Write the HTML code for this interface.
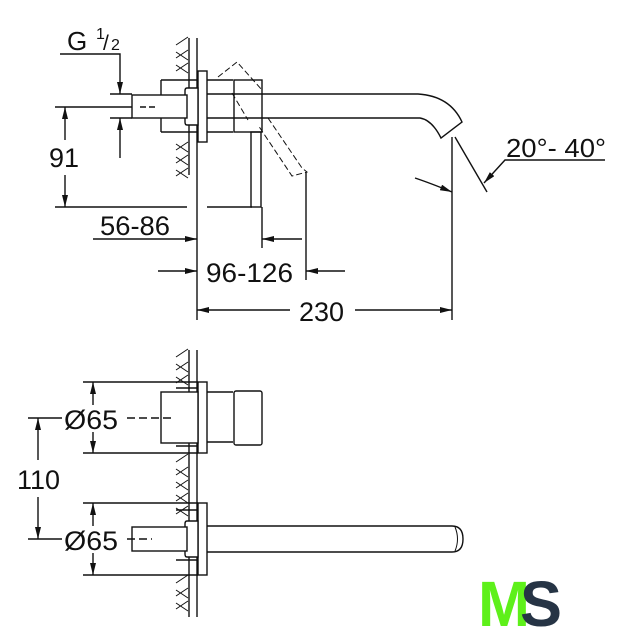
<!DOCTYPE html>
<html><head><meta charset="utf-8"><style>
html,body{margin:0;padding:0;background:#fff;}
svg{display:block;}
text{font-family:"Liberation Sans",sans-serif;fill:#111;}
</style></head><body>
<svg width="625" height="640" viewBox="0 0 625 640" xmlns="http://www.w3.org/2000/svg">
<defs>
<marker id="a" viewBox="0 0 12 6" refX="12" refY="3" markerWidth="12" markerHeight="6" orient="auto" markerUnits="userSpaceOnUse"><path d="M0,0 L12,3 L0,6z" fill="#111"/></marker>
</defs>
<g stroke="#111" stroke-width="1.4" fill="none">
<line x1="189" y1="38" x2="189" y2="175"/><line x1="197" y1="38" x2="197" y2="320"/>
<g stroke-width="1">
<path d="M176,45 l12,-8 M176,58 l12,-8 M176,71 l12,-8 M176,150 l12,-8 M176,163 l12,-8 M176,176 l12,-8"/>
<path d="M176,52 l12,8 M176,65 l12,8 M176,144 l12,8 M176,157 l12,8 M176,170 l12,8"/>
</g>
<rect x="198" y="71" width="9" height="71" fill="#fff"/>
<path d="M161,80 H198 M161,132 H198 M161,80 V132"/>
<path d="M187,88 H198 V125 H187 Q185,125 185,122 V91 Q185,88 187,88Z" fill="#fff"/>
<rect x="132" y="95" width="55" height="23" fill="#fff"/>
<path d="M207,80 H233 M207,132 H233"/>
<rect x="234" y="80" width="28" height="52"/>
<rect x="251" y="132" width="10" height="75"/>
<g stroke-dasharray="6,3" stroke-width="1">
<path d="M218,77 L237,62 L262,90 M232,93 L248,120 M268,118 L302,168 L307,172 L292,176 L258,125"/>
</g>
<path d="M207,94 H418 Q450,96 462,122 L441,138 Q432,120 420,118 H207"/>
<line x1="55" y1="107" x2="132" y2="107"/><line x1="140" y1="107" x2="157" y2="107" stroke-dasharray="6,3"/>
<path d="M60,54 H120 V94" marker-end="url(#a)"/>
<line x1="110" y1="94" x2="132" y2="94"/>
<line x1="110" y1="118" x2="132" y2="118"/>
<line x1="120" y1="158" x2="120" y2="118" marker-end="url(#a)"/>
<line x1="65" y1="140" x2="65" y2="107" marker-end="url(#a)"/>
<line x1="65" y1="175" x2="65" y2="207" marker-end="url(#a)"/>
<line x1="55" y1="207" x2="187" y2="207"/><line x1="207" y1="207" x2="252" y2="207"/>
<line x1="93" y1="239" x2="197" y2="239" marker-end="url(#a)"/>
<line x1="262" y1="207" x2="262" y2="248"/>
<line x1="302" y1="239" x2="262" y2="239" marker-end="url(#a)"/>
<line x1="306" y1="172" x2="306" y2="280"/>
<line x1="158" y1="271" x2="197" y2="271" marker-end="url(#a)"/>
<line x1="345" y1="271" x2="306" y2="271" marker-end="url(#a)"/>
<line x1="290" y1="310" x2="197" y2="310" marker-end="url(#a)"/>
<line x1="355" y1="310" x2="452" y2="310" marker-end="url(#a)"/>
<line x1="452" y1="137" x2="452" y2="320"/>
<line x1="455" y1="137" x2="487" y2="192"/>
<path d="M605,160 H505 L484,183" marker-end="url(#a)"/>
<path d="M415,178 Q430,183 452,192" marker-end="url(#a)"/>

<line x1="189" y1="350" x2="189" y2="617"/><line x1="197" y1="350" x2="197" y2="617"/>
<g stroke-width="1">
<path d="M176,357 l12,-8 M176,370 l12,-8 M176,383 l12,-8 M176,462 l12,-8 M176,475 l12,-8 M176,488 l12,-8 M176,501 l12,-8 M176,514 l12,-8 M176,583 l12,-8 M176,596 l12,-8 M176,609 l12,-8"/>
<path d="M176,364 l12,8 M176,377 l12,8 M176,469 l12,8 M176,482 l12,8 M176,495 l12,8 M176,508 l12,8 M176,590 l12,8 M176,603 l12,8"/>
</g>
<rect x="198" y="382" width="9" height="71" fill="#fff"/>
<rect x="161" y="392" width="37" height="51" fill="#fff"/>
<path d="M176,388 H198 M176,446 H198"/>
<path d="M207,392 H233 M207,442 H233"/>
<rect x="234" y="391" width="28" height="54" rx="2"/>
<rect x="198" y="503" width="9" height="72" fill="#fff"/>
<path d="M176,560 H198 M176,510 H198"/>
<path d="M187,521 H198 V557 H187 Q185,557 185,554 V524 Q185,521 187,521Z" fill="#fff"/>
<rect x="132" y="527" width="55" height="24" fill="#fff"/>
<path d="M207,526 H452 Q463,526 463,539 Q463,552 452,552 H207"/>
<path d="M455,527 Q460,539 455,551" stroke-width="1"/>
<line x1="83" y1="382" x2="198" y2="382"/><line x1="83" y1="453" x2="198" y2="453"/>
<line x1="93" y1="405" x2="93" y2="382" marker-end="url(#a)"/>
<line x1="93" y1="432" x2="93" y2="453" marker-end="url(#a)"/>
<line x1="28" y1="418" x2="62" y2="418"/><line x1="127" y1="418" x2="172" y2="418" stroke-dasharray="8,4"/>
<line x1="83" y1="503" x2="198" y2="503"/><line x1="83" y1="575" x2="198" y2="575"/>
<line x1="93" y1="526" x2="93" y2="503" marker-end="url(#a)"/>
<line x1="93" y1="553" x2="93" y2="575" marker-end="url(#a)"/>
<line x1="28" y1="539" x2="62" y2="539"/><line x1="127" y1="539" x2="152" y2="539" stroke-dasharray="8,4"/>
<line x1="38" y1="460" x2="38" y2="418" marker-end="url(#a)"/>
<line x1="38" y1="497" x2="38" y2="539" marker-end="url(#a)"/>
</g>
<text x="67" y="50" font-size="26">G</text>
<text x="96" y="39" font-size="16">1</text>
<text x="103" y="50" font-size="21">/</text>
<text x="111" y="50" font-size="16">2</text>
<text x="49" y="167" font-size="27">91</text>
<text x="100" y="235" font-size="27" textLength="70" lengthAdjust="spacingAndGlyphs">56-86</text>
<text x="206" y="282" font-size="27" textLength="87" lengthAdjust="spacingAndGlyphs">96-126</text>
<text x="299" y="321" font-size="27">230</text>
<text x="506" y="157" font-size="26" textLength="100" lengthAdjust="spacingAndGlyphs">20°- 40°</text>
<text x="64" y="429" font-size="27" textLength="54" lengthAdjust="spacingAndGlyphs">Ø65</text>
<text x="64" y="550" font-size="27" textLength="54" lengthAdjust="spacingAndGlyphs">Ø65</text>
<text x="17" y="489" font-size="27" textLength="43" lengthAdjust="spacingAndGlyphs">110</text>
<text x="478" y="626" font-size="64" font-weight="bold" style="fill:#5ef01a" textLength="52" lengthAdjust="spacingAndGlyphs">M</text>
<text x="520" y="626" font-size="64" font-weight="bold" style="fill:#263445" textLength="42" lengthAdjust="spacingAndGlyphs">S</text>
</svg>
</body></html>
